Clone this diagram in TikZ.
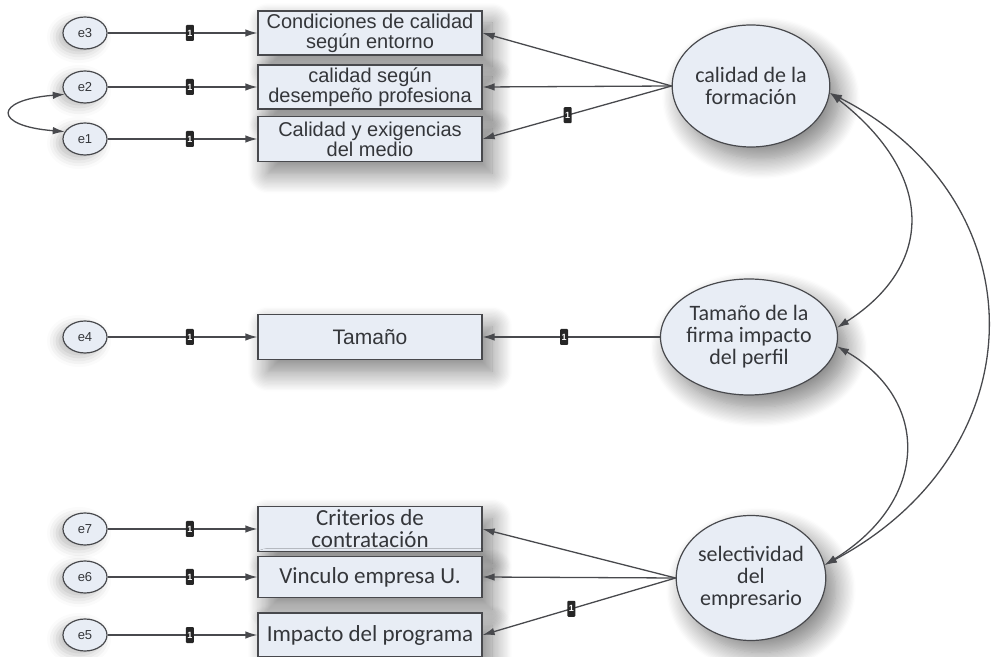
\documentclass[tikz,border=0pt]{standalone}
\usepackage{fontspec}
\setmainfont{Liberation Sans}
\newfontfamily\calibri{Carlito}
\usepackage{tikz}
\usetikzlibrary{arrows.meta,positioning,calc,shapes.geometric,shadows.blur}

\definecolor{relleno}{HTML}{E8EDF5}
\definecolor{borde}{HTML}{48494D}
\definecolor{texto}{HTML}{34363A}

\tikzset{
  sombra/.style={blur shadow={shadow xshift=10pt,shadow yshift=-12pt,shadow blur radius=20pt,shadow blur steps=16,shadow opacity=50}},
  residuo/.style={ellipse,draw=borde,fill=relleno,line width=1.2pt,minimum width=44pt,minimum height=32pt,inner sep=0pt,text=texto,font=\fontsize{13}{13}\selectfont,
    blur shadow={shadow xshift=-6pt,shadow yshift=-4pt,shadow blur radius=10pt,shadow opacity=25}},
  indicador/.style={rectangle,draw=borde,fill=relleno,line width=1.2pt,minimum width=224pt,minimum height=44pt,inner sep=0pt,align=center,text=texto,sombra},
  latente/.style={ellipse,draw=borde,fill=relleno,line width=1.2pt,minimum width=148pt,minimum height=122pt,inner sep=0pt,align=center,text=texto,font=\calibri\fontsize{22}{22}\selectfont,sombra},
  uno/.style={rectangle,fill=black!85,text=white,rounded corners=1pt,minimum width=8pt,minimum height=16pt,inner sep=0pt,font=\bfseries\fontsize{9}{9}\selectfont},
  flecha/.style={-{Latex[length=12pt,width=7.5pt]},draw=borde,line width=1.3pt},
  cov/.style={{Latex[length=12pt,width=7.5pt]}-{Latex[length=12pt,width=7.5pt]},draw=borde,line width=1.3pt}
}

\begin{document}
\begin{tikzpicture}[x=1pt,y=1pt]
	\useasboundingbox (0,0) rectangle (993,656);

	% Variables latentes
	\node[latente] (cal) at (751,570) {calidad de la\\formación};
	\node[latente, minimum height=116pt] (tam) at (749,319) {Tamaño de la\\firma impacto\\del perfil};
	\node[latente, minimum height=125pt] (sel) at (751,78) {selectividad\\del\\empresario};

	% Indicadores observados
	\node[indicador, font=\fontsize{20}{20}\selectfont] (b3) at (370,623) {Condiciones de calidad\\según entorno};
	\node[indicador, font=\fontsize{20}{20}\selectfont] (b2) at (370,569) {calidad según\\desempeño profesiona};
	\node[indicador, font=\fontsize{20}{20}\selectfont, minimum height=45pt] (b1) at (370,517) {Calidad y exigencias\\del medio};
	\node[indicador, font=\fontsize{21}{21}\selectfont, minimum height=45pt] (b4) at (370,319) {Tamaño};
	\node[indicador, font=\calibri\fontsize{23}{22}\selectfont, minimum height=45pt] (b7) at (370,127) {Criterios de\\contratación};
	\node[indicador, font=\calibri\fontsize{23}{23}\selectfont, minimum height=41pt] (b6) at (370,79) {Vinculo empresa U.};
	\node[indicador, font=\calibri\fontsize{23}{23}\selectfont] (b5) at (370,21) {Impacto del programa};

	% Errores
	\foreach \n/\y in {e3/623,e2/569,e1/517,e4/319,e7/127,e6/79,e5/21}
		\node[residuo] (\n) at (85,\y) {\n};

	% Error -> indicador, peso fijado en 1
	\foreach \e/\b in {e3/b3,e2/b2,e1/b1,e4/b4,e7/b7,e6/b6,e5/b5}
		\draw[flecha] (\e) -- node[uno, pos=0.55] {1} (\b);

	% Cargas factoriales
	\draw[flecha] (cal.west) -- (b3.east);
	\draw[flecha] (cal.west) -- (b2.east);
	\draw[flecha] (cal.west) -- node[uno, pos=0.55] {1} (b1.east);
	\draw[flecha] (tam.west) -- node[uno, pos=0.54] {1} (b4.east);
	\draw[flecha] (sel.west) -- (b7.east);
	\draw[flecha] (sel.west) -- (b6.east);
	\draw[flecha] (sel.west) -- node[uno, pos=0.54] {1} (b5.east);

	% Covarianzas
	\draw[cov] (e2.200) .. controls (-7,556) and (-7,530) .. (e1.160);
	\draw[cov] (cal.-5) .. controls (935,481) and (935,391) .. (tam.6);
	\draw[cov] (tam.-6) .. controls (930,256) and (930,156) .. (sel.10);
	\draw[cov] (cal.-5) .. controls (1040,456) and (1040,206) .. (sel.10);
\end{tikzpicture}
\end{document}
